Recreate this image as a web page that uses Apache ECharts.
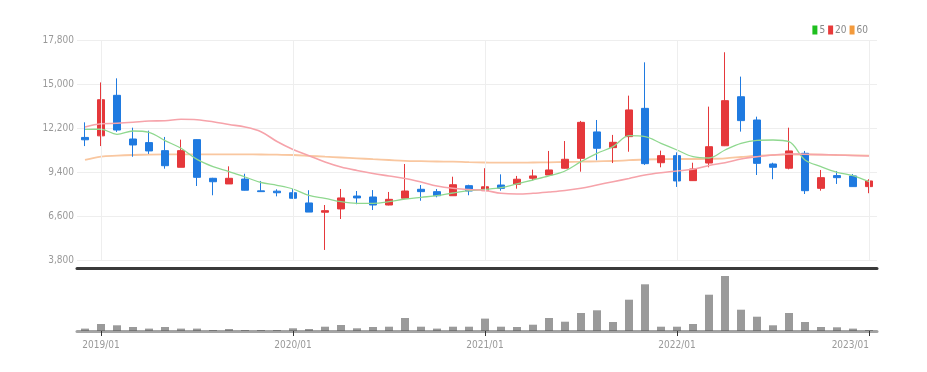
<!DOCTYPE html>
<html><head><meta charset="utf-8">
<script src="https://cdn.jsdelivr.net/npm/echarts@6/dist/echarts.min.js"></script>
<style>html,body{margin:0;padding:0;background:#fff}#c{width:927px;height:372px}</style>
</head><body><div id="c"></div>
<script>
const months = ["2018/12","2019/01","2019/02","2019/03","2019/04","2019/05","2019/06","2019/07","2019/08","2019/09","2019/10","2019/11","2019/12",
"2020/01","2020/02","2020/03","2020/04","2020/05","2020/06","2020/07","2020/08","2020/09","2020/10","2020/11","2020/12",
"2021/01","2021/02","2021/03","2021/04","2021/05","2021/06","2021/07","2021/08","2021/09","2021/10","2021/11","2021/12",
"2022/01","2022/02","2022/03","2022/04","2022/05","2022/06","2022/07","2022/08","2022/09","2022/10","2022/11","2022/12","2023/01"];
const opens  = [11600,11700,14280,11500,11270,10760,9700,11460,9000,8640,8950,8200,8180,8080,7430,6840,7050,7870,7810,7300,7730,8300,8150,7890,8530,8210,8570,8620,9000,9210,9640,10270,11950,10950,11650,13450,9990,10440,8850,9970,11070,14190,12710,9910,9640,10590,8360,9170,9150,8470];
const closes = [11450,14000,12070,11120,10740,9800,10760,9060,8780,9000,8240,8150,8080,7730,6850,6940,7750,7750,7300,7660,8190,8150,7890,8590,8190,8460,8360,8940,9150,9530,10210,12560,10910,11290,13350,9930,10440,8830,9590,11010,13940,12670,9950,9700,10740,8210,9040,9040,8470,8830];
const lows   = [11050,11050,11950,10370,10550,9610,9700,8510,7920,8640,8220,8150,7850,7700,6850,4440,6410,7350,6980,7280,7700,7570,7790,7890,7920,8190,8210,8340,8870,9200,9620,9420,10150,9970,10690,9850,9700,8450,8830,9700,11050,11970,9210,8940,9570,8000,8210,8640,8460,8050];
const highs  = [12560,15100,15360,12220,12030,11630,11460,11480,9030,9760,9290,8830,8300,8320,8240,7300,8320,8190,8250,8130,9910,8570,8320,9100,8590,9640,9250,9150,9550,10740,11370,12650,12710,11760,14260,16380,10760,10650,9990,13560,17020,15470,12920,9990,12220,10740,9530,9460,9270,8940];
const ma5  = [12118,12120,11800,12010,11927,11400,10909,10200,9738,9430,9082,8732,8554,8318,7905,7727,7510,7408,7408,7510,7682,7790,7892,8064,8210,8287,8401,8649,8891,9146,9464,10056,10590,11011,11711,11647,11227,10800,10374,10290,10800,11227,11418,11437,11329,10164,9738,9381,9165,8783];
const ma20 = [12264,12468,12500,12563,12646,12659,12754,12729,12602,12423,12264,11965,11341,10832,10438,10037,9718,9495,9304,9146,8987,8764,8509,8363,8287,8223,8045,8000,8045,8127,8223,8363,8573,8783,8987,9209,9356,9464,9572,9814,9992,10227,10374,10482,10546,10527,10507,10482,10450,10418];
const ma60 = [10164,10374,10438,10482,10510,10520,10520,10520,10520,10520,10520,10514,10500,10482,10431,10374,10323,10272,10215,10164,10113,10088,10069,10056,10024,10005,9992,9992,10005,10018,10037,10056,10082,10100,10151,10196,10215,10227,10227,10240,10272,10355,10438,10482,10514,10514,10507,10482,10463,10438];
const volumes = [24,70,57,40,24,40,24,24,10,20,10,10,10,27,20,43,60,27,40,43,130,43,24,43,43,124,43,40,63,130,93,180,207,90,313,467,43,43,70,363,550,213,143,57,180,90,40,37,24,10];
const yTicks = {min:3800, max:17800, interval:2800};

const UP = '#e5383b', DOWN = '#1f7ae0';
const FONT = '"DejaVu Sans Condensed", "Roboto Condensed", "Liberation Sans", sans-serif';
const isJan = (i) => months[i].endsWith('/01');
const janMonths = months.filter((m,i)=>isJan(i));
const candle = months.map((m,i)=>[opens[i],closes[i],lows[i],highs[i]]);

const chart = echarts.init(document.getElementById('c'), null, {renderer:'canvas'});
chart.setOption({
  animation:false,
  backgroundColor:'#fff',
  legend:{
    right:54, top:20, icon:'rect', itemWidth:5, itemHeight:9, itemGap:3,
    textStyle:{color:'#888', fontSize:10, fontFamily:FONT, padding:[0,0,0,-3]},
    data:['5','20','60']
  },
  grid:[
    {left:77, right:50, top:40, height:220},
    {left:77, right:50, top:276, height:55}
  ],
  xAxis:[
    {type:'category', data:months, gridIndex:0, boundaryGap:true,
     axisLine:{show:true, onZero:false, lineStyle:{color:'#3a3a3a', width:3}},
     offset:8,
     axisTick:{show:false}, axisLabel:{show:false},
     splitLine:{show:false}},
    {type:'category', data:months, gridIndex:1, boundaryGap:true, z:5,
     axisLine:{show:true, lineStyle:{color:'rgba(90,90,90,0.55)', width:3}},
     axisTick:{show:true, alignWithLabel:true, interval:(i)=>isJan(i), length:5, lineStyle:{color:'#333'}},
     axisLabel:{interval:(i)=>isJan(i), color:'#999', fontSize:10, fontFamily:FONT, margin:9, alignMaxLabel:'right'},
     splitLine:{show:false}}
  ],
  yAxis:[
    {type:'value', gridIndex:0, min:yTicks.min, max:yTicks.max, interval:yTicks.interval, scale:false,
     axisLine:{show:false}, axisTick:{show:false},
     axisLabel:{color:'#999', fontSize:10, fontFamily:FONT, margin:3,
       formatter:(v)=>v.toLocaleString('en-US')},
     splitLine:{lineStyle:{color:'#eeeeee'}}},
    {type:'value', gridIndex:1, min:0, max:550, show:false, splitLine:{show:false}}
  ],
  series:[
    {type:'line', xAxisIndex:0, yAxisIndex:0, data:months.map(()=>null), z:0, silent:true,
     markLine:{silent:true, symbol:['none','none'], label:{show:false},
       lineStyle:{color:'#eeeeee', type:'solid', width:1},
       data:janMonths.map(m=>({xAxis:m}))}},
    {type:'candlestick', xAxisIndex:0, yAxisIndex:0, data:candle, barWidth:8,
     itemStyle:{color:UP, color0:DOWN, borderColor:UP, borderColor0:DOWN, borderWidth:1}},
    {name:'5', type:'line', data:ma5, smooth:0.35, showSymbol:false, symbol:'none',
     itemStyle:{color:'#1fbf1f'}, lineStyle:{color:'#8fd88f', width:1.3}, z:3},
    {name:'20', type:'line', data:ma20, smooth:0.35, showSymbol:false, symbol:'none',
     itemStyle:{color:'#e83a3a'}, lineStyle:{color:'#f6a3aa', width:1.6}, z:3},
    {name:'60', type:'line', data:ma60, smooth:0.35, showSymbol:false, symbol:'none',
     itemStyle:{color:'#f39a3c'}, lineStyle:{color:'#f9c7a0', width:1.8}, z:2},
    {type:'bar', xAxisIndex:1, yAxisIndex:1, data:volumes, barWidth:8,
     itemStyle:{color:'#9a9a9a'}}
  ]
});
</script></body></html>
